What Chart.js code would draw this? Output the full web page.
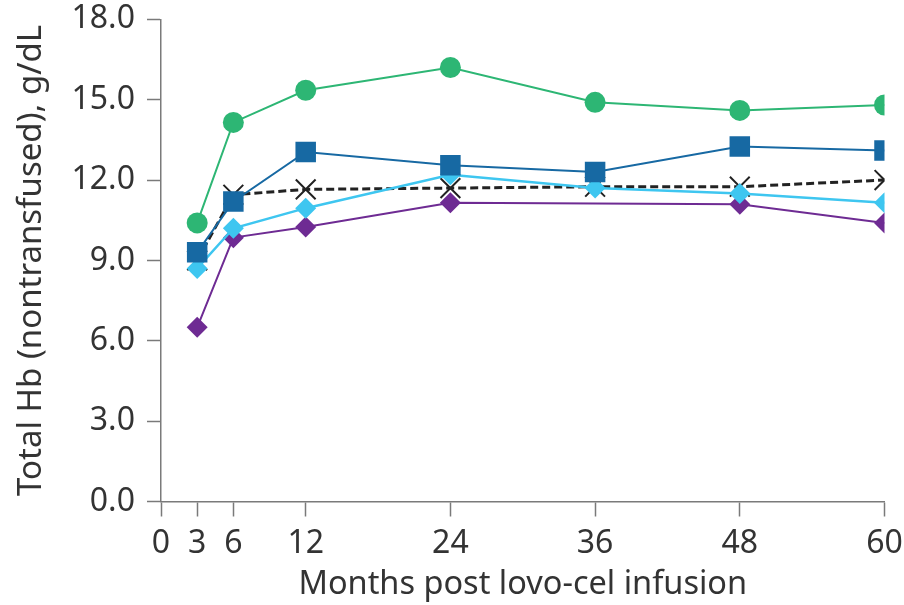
<!DOCTYPE html>
<html>
<head>
<meta charset="utf-8">
<script src="https://cdn.jsdelivr.net/npm/chart.js@4"></script>
<style>
  html, body { margin: 0; padding: 0; background: #fff; }
  #wrap { width: 904px; height: 605px; position: relative; }
</style>
</head>
<body>
<div id="wrap"><canvas id="myChart"></canvas></div>
<script>
// months post infusion
var months = [3, 6, 12, 24, 36, 48, 60];
var xTicks = [0, 3, 6, 12, 24, 36, 48, 60];

// Hb values, g/dL
var greenVals = [10.4, 14.15, 15.35, 16.2, 14.9, 14.6, 14.8];
var blueVals = [9.3, 11.2, 13.05, 12.55, 12.3, 13.25, 13.1];
var lightBlueVals = [8.7, 10.2, 10.95, 12.2, 11.7, 11.5, 11.15];
var blackVals = [9.0, 11.45, 11.65, 11.7, 11.75, 11.75, 12.0];
var purpleVals = [6.5, 9.85, 10.25, 11.15, null, 11.1, 10.4];

function pts(vals) {
    var out = [];
    for (var i = 0; i < months.length; i++) {
        if (vals[i] !== null) out.push({ x: months[i], y: vals[i] });
    }
    return out;
}

var axisColor = '#7a7a7a';
var textColor = '#333333';
var fontFamily = '"Noto Sans", sans-serif';

var ctx = document.getElementById('myChart').getContext('2d');

var myChart = new Chart(ctx, {
    type: 'line',
    data: {
        datasets: [{
            data: pts(greenVals),
            borderColor: '#2db674',
            backgroundColor: '#2db674',
            borderWidth: 2,
            pointStyle: 'circle',
            pointRadius: 10.5,
            pointBorderWidth: 0
        },
        {
            data: pts(blueVals),
            borderColor: '#1769a3',
            backgroundColor: '#1769a3',
            borderWidth: 2,
            pointStyle: 'rect',
            pointRadius: 14.5,
            pointBorderWidth: 0
        },
        {
            data: pts(lightBlueVals),
            borderColor: '#3ec6f0',
            backgroundColor: '#3ec6f0',
            borderWidth: 2.5,
            pointStyle: 'rectRot',
            pointRadius: 10.5,
            pointBorderWidth: 0
        },
        {
            data: pts(blackVals),
            borderColor: '#222222',
            backgroundColor: '#222222',
            borderWidth: 3,
            borderDash: [8, 4],
            pointStyle: 'crossRot',
            pointRadius: 14,
            pointBorderWidth: 2
        },
        {
            data: pts(purpleVals),
            borderColor: '#6e2b93',
            backgroundColor: '#6e2b93',
            borderWidth: 2,
            pointStyle: 'rectRot',
            pointRadius: 10.5,
            pointBorderWidth: 0
        }]
    },
    options: {
        responsive: true,
        maintainAspectRatio: false,
        animation: false,
        layout: {
            padding: { left: 0, right: 19.5, top: 19.3, bottom: 0 }
        },
        plugins: {
            legend: { display: false },
            tooltip: { enabled: false }
        },
        elements: {
            line: { tension: 0 }
        },
        scales: {
            x: {
                type: 'linear',
                min: 0,
                max: 60,
                afterBuildTicks: function(scale) {
                    scale.ticks = xTicks.map(function(v) { return { value: v }; });
                },
                afterFit: function(scale) {
                    scale.height = 103.5;
                    scale.paddingLeft = 0;
                    scale.paddingRight = 0;
                },
                grid: {
                    drawOnChartArea: false,
                    drawTicks: true,
                    tickLength: 15,
                    tickWidth: 1.5,
                    color: axisColor
                },
                border: { color: axisColor, width: 1.5 },
                ticks: {
                    autoSkip: false,
                    maxRotation: 0,
                    padding: 8,
                    color: textColor,
                    font: { family: fontFamily, size: 32 }
                },
                title: {
                    display: true,
                    text: 'Months post lovo-cel infusion',
                    color: textColor,
                    font: { family: fontFamily, size: 32.5 },
                    padding: { top: 0, bottom: 1 }
                }
            },
            y: {
                min: 0,
                max: 18,
                afterFit: function(scale) {
                    scale.width = 161;
                    scale.paddingTop = 0;
                    scale.paddingBottom = 0;
                },
                grid: {
                    drawOnChartArea: false,
                    drawTicks: true,
                    tickLength: 14,
                    tickWidth: 1.5,
                    color: axisColor
                },
                border: { color: axisColor, width: 1.5 },
                ticks: {
                    stepSize: 3,
                    padding: 12,
                    color: textColor,
                    font: { family: fontFamily, size: 32 },
                    callback: function(v) { return v.toFixed(1); }
                },
                title: {
                    display: true,
                    text: 'Total Hb (nontransfused), g/dL',
                    color: textColor,
                    font: { family: fontFamily, size: 33 },
                    padding: { top: 12, bottom: 0 }
                }
            }
        }
    }
});
</script>
</body>
</html>
